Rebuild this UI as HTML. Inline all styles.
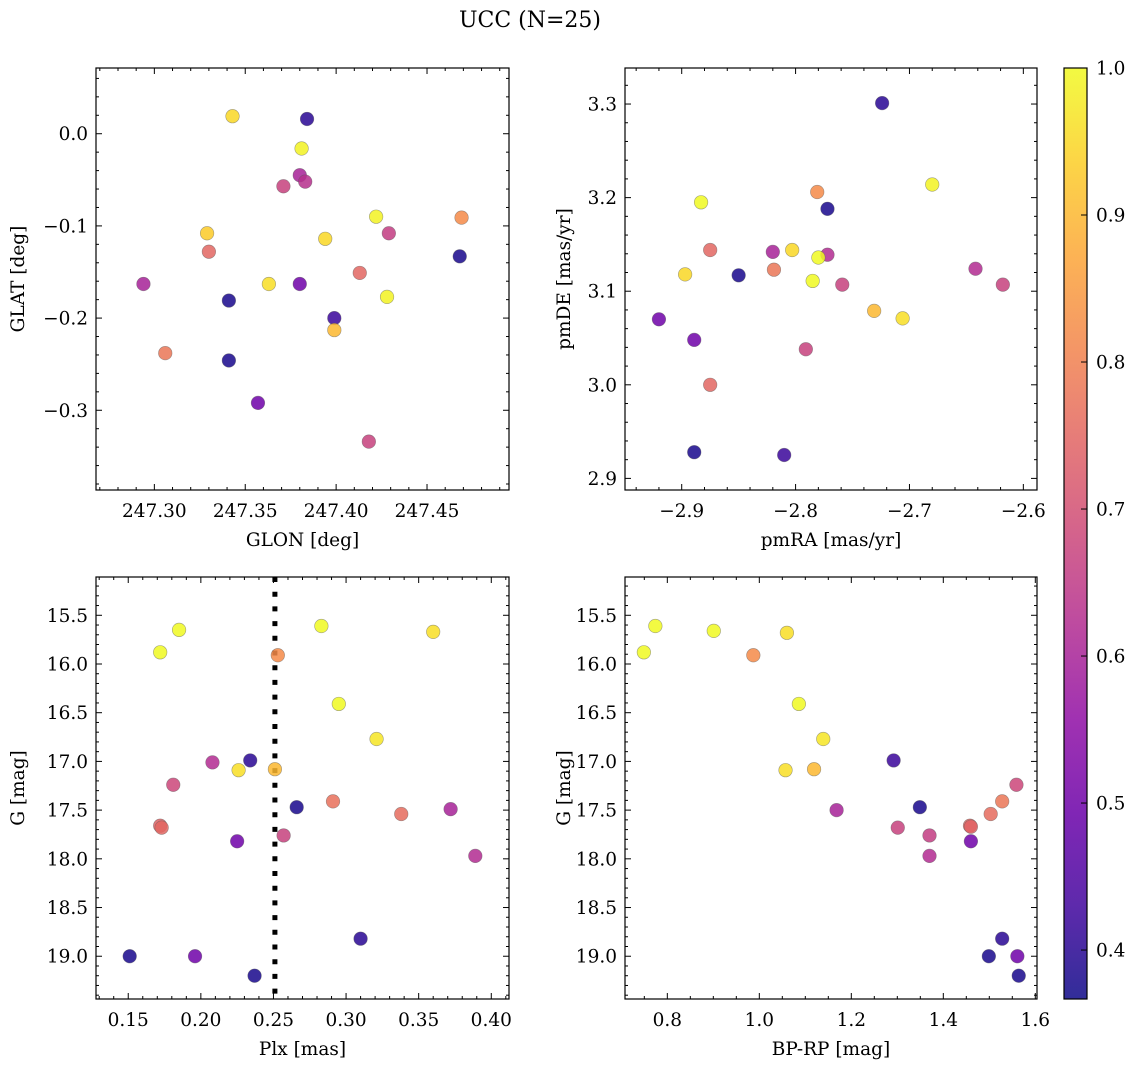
<!DOCTYPE html>
<html><head><meta charset="utf-8">
<style>
html,body{margin:0;padding:0;background:#fff;}
svg{display:block;font-family:"DejaVu Serif","Liberation Serif",serif;}
</style></head>
<body>
<svg id="fig" width="1136" height="1067" viewBox="0 0 1136 1067" xmlns="http://www.w3.org/2000/svg">
<text x="530" y="27" font-size="22" text-anchor="middle">UCC (N=25)</text>
<defs>
<linearGradient id="plasmaGrad" x1="0" y1="1" x2="0" y2="0"></linearGradient>
</defs>
</svg>
<script>
// ---- Panel 1: GLON / GLAT ----
const glon = [247.343,247.384,247.381,247.380,247.383,247.371,247.422,247.469,247.329,247.429,247.394,247.330,247.468,247.413,247.294,247.363,247.380,247.428,247.341,247.399,247.399,247.306,247.341,247.357,247.418];
const glat = [0.019,0.016,-0.016,-0.045,-0.052,-0.057,-0.090,-0.091,-0.108,-0.108,-0.114,-0.128,-0.133,-0.151,-0.163,-0.163,-0.163,-0.177,-0.181,-0.200,-0.213,-0.238,-0.246,-0.292,-0.334];
const prob1 = [0.95,0.40,0.99,0.60,0.63,0.67,0.99,0.82,0.93,0.66,0.95,0.75,0.38,0.75,0.60,0.96,0.50,0.99,0.38,0.42,0.90,0.78,0.38,0.50,0.67];
// ---- Panel 2: pmRA / pmDE ----
const pmra = [-2.724,-2.680,-2.781,-2.883,-2.772,-2.875,-2.820,-2.803,-2.772,-2.780,-2.819,-2.897,-2.850,-2.642,-2.785,-2.759,-2.618,-2.731,-2.706,-2.920,-2.889,-2.791,-2.875,-2.889,-2.810];
const pmde = [3.301,3.214,3.206,3.195,3.188,3.144,3.142,3.144,3.139,3.136,3.123,3.118,3.117,3.124,3.111,3.107,3.107,3.079,3.071,3.070,3.048,3.038,3.000,2.928,2.925];
const prob2 = [0.40,0.99,0.82,1.00,0.38,0.75,0.60,0.95,0.62,1.00,0.78,0.95,0.38,0.62,1.00,0.67,0.67,0.90,0.96,0.50,0.50,0.67,0.75,0.38,0.42];
// ---- Panel 3: Plx / G ----
const plx = [0.185,0.172,0.283,0.360,0.253,0.295,0.321,0.208,0.234,0.226,0.251,0.181,0.266,0.291,0.338,0.372,0.172,0.173,0.225,0.257,0.389,0.310,0.151,0.196,0.237];
const gmag3 = [15.65,15.88,15.61,15.67,15.91,16.41,16.77,17.01,16.99,17.09,17.08,17.24,17.47,17.41,17.54,17.49,17.66,17.68,17.82,17.76,17.97,18.82,19.00,19.00,19.20];
const prob3 = [1.00,1.00,1.00,0.96,0.82,1.00,0.97,0.62,0.40,0.96,0.90,0.68,0.38,0.77,0.76,0.60,0.74,0.75,0.50,0.67,0.62,0.40,0.38,0.50,0.38];
const plxLine = [0.251];
// ---- Panel 4: BP-RP / G ----
const bprp = [0.749,0.774,0.901,1.060,0.987,1.086,1.139,1.292,1.057,1.119,1.559,1.528,1.349,1.168,1.503,1.458,1.460,1.301,1.370,1.460,1.370,1.528,1.499,1.561,1.564];
const gmag4 = [15.88,15.61,15.66,15.68,15.91,16.41,16.77,16.99,17.09,17.08,17.24,17.41,17.47,17.50,17.54,17.66,17.67,17.68,17.76,17.82,17.97,18.82,19.00,19.00,19.20];
const prob4 = [1.00,1.00,1.00,0.96,0.82,1.00,0.97,0.42,0.96,0.90,0.68,0.78,0.38,0.60,0.76,0.75,0.74,0.67,0.66,0.50,0.62,0.40,0.38,0.50,0.38];
// ---- colorbar ----
const cbTicks = [0.4,0.5,0.6,0.7,0.8,0.9,1.0];
const cbLabels = ["0.4","0.5","0.6","0.7","0.8","0.9","1.0"];
const vmin = 0.3667, vmax = 1.0;

const NS = "http://www.w3.org/2000/svg";
const svg = document.getElementById('fig');
function mk(tag, attrs, parent){const e=document.createElementNS(NS,tag);for(const k in attrs)e.setAttribute(k,attrs[k]);(parent||svg).appendChild(e);return e;}

const PL = [[13,8,135],[65,4,157],[106,0,168],[143,13,164],[177,42,144],[204,71,120],[225,100,98],[242,132,75],[252,166,54],[252,206,37],[240,249,33]];
function plasma(t){t=Math.max(0,Math.min(1,t));const f=t*10;const i=Math.min(9,Math.floor(f));const r=f-i;const a=PL[i],b=PL[i+1];
  return `rgb(${Math.round(a[0]+(b[0]-a[0])*r)},${Math.round(a[1]+(b[1]-a[1])*r)},${Math.round(a[2]+(b[2]-a[2])*r)})`;}
function cmap(p){return plasma((p-vmin)/(vmax-vmin));}

function fmt(v,d){const s=Math.abs(v).toFixed(d);return (v<-1e-9?"\u2212":"")+s;}
const FS = 18.5;

function panel(cfg){
  const {name,x0,y0,w,h,xmin,xmax,ymin,ymax,xMaj,xMin,yMaj,yMin,xd,yd,xlabel,ylabel,invertY,xs,ys,ps} = cfg;
  const g = mk('g',{});
  
  
  const X = v => x0 + (v - xmin)/(xmax - xmin)*w;
  const Y = invertY ? (v => y0 + (v - ymin)/(ymax - ymin)*h) : (v => y0 + h - (v - ymin)/(ymax - ymin)*h);
  const clipId = name+'-clip';
  const cp = mk('clipPath',{id:clipId},g); mk('rect',{x:x0,y:y0,width:w,height:h},cp);
  const pts = mk('g',{'clip-path':`url(#${clipId})`},g);
  
  
  if(cfg.vline){
    for(const v of cfg.vline){
      const l = mk('line',{x1:X(v),x2:X(v),y1:y0,y2:y0+h,stroke:'#000','stroke-width':5,'stroke-dasharray':'5 9.7'},pts);
      
      
    }
  }
  for(let i=0;i<xs.length;i++){
    const c = mk('circle',{cx:X(xs[i]),cy:Y(ys[i]),r:6.8,fill:cmap(ps[i]),'fill-opacity':0.85,stroke:'rgba(90,90,90,0.55)','stroke-width':0.6},pts);
    
    
  }
  mk('rect',{x:x0,y:y0,width:w,height:h,fill:'none',stroke:'#000','stroke-width':1.2},g);
  const eps=1e-9;
  for(let v=Math.ceil(xmin/xMin-eps)*xMin; v<=xmax+eps; v+=xMin){
    const px=X(v); const isMaj = Math.abs(v/xMaj-Math.round(v/xMaj))<1e-4; const L=isMaj?6:3;
    mk('line',{x1:px,x2:px,y1:y0+h,y2:y0+h-L,stroke:'#000','stroke-width':1},g);
    mk('line',{x1:px,x2:px,y1:y0,y2:y0+L,stroke:'#000','stroke-width':1},g);
  }
  for(let v=Math.ceil(xmin/xMaj-eps)*xMaj; v<=xmax+eps; v+=xMaj){
    const t=mk('text',{x:X(v),y:y0+h+27,'font-size':FS,'text-anchor':'middle'},g); t.textContent=fmt(v,xd);
    
    
  }
  for(let v=Math.ceil(ymin/yMin-eps)*yMin; v<=ymax+eps; v+=yMin){
    const py=Y(v); const isMaj = Math.abs(v/yMaj-Math.round(v/yMaj))<1e-4; const L=isMaj?6:3;
    mk('line',{x1:x0,x2:x0+L,y1:py,y2:py,stroke:'#000','stroke-width':1},g);
    mk('line',{x1:x0+w,x2:x0+w-L,y1:py,y2:py,stroke:'#000','stroke-width':1},g);
  }
  for(let v=Math.ceil(ymin/yMaj-eps)*yMaj; v<=ymax+eps; v+=yMaj){
    const t=mk('text',{x:x0-8,y:Y(v)+6.5,'font-size':FS,'text-anchor':'end'},g); t.textContent=fmt(v,yd);
    
    
  }
  const xl=mk('text',{x:x0+w/2,y:y0+h+56,'font-size':FS,'text-anchor':'middle'},g); xl.textContent=xlabel;
  
  
  const yx = cfg.ylabX;
  const yl=mk('text',{x:yx,y:y0+h/2,'font-size':FS,'text-anchor':'middle',transform:`rotate(-90 ${yx} ${y0+h/2})`},g); yl.textContent=ylabel;
  
  
}

panel({name:'glon-glat-panel',x0:96,y0:68,w:413,h:422,xmin:247.2679,xmax:247.4951,ymin:-0.3865,ymax:0.0713,xMaj:0.05,xMin:0.01,yMaj:0.1,yMin:0.02,xd:2,yd:1,xlabel:'GLON [deg]',ylabel:'GLAT [deg]',ylabX:24,xs:glon,ys:glat,ps:prob1});
panel({name:'pm-panel',x0:625,y0:68,w:412,h:422,xmin:-2.9498,xmax:-2.588,ymin:2.8876,ymax:3.3385,xMaj:0.1,xMin:0.02,yMaj:0.1,yMin:0.02,xd:1,yd:1,xlabel:'pmRA [mas/yr]',ylabel:'pmDE [mas/yr]',ylabX:570,xs:pmra,ys:pmde,ps:prob2});
panel({name:'plx-g-panel',x0:96,y0:577,w:413,h:422,xmin:0.1278,xmax:0.4122,ymin:15.107,ymax:19.439,xMaj:0.05,xMin:0.01,yMaj:0.5,yMin:0.1,xd:2,yd:1,xlabel:'Plx [mas]',ylabel:'G [mag]',ylabX:24,invertY:true,xs:plx,ys:gmag3,ps:prob3,vline:plxLine});
panel({name:'cmd-panel',x0:625,y0:577,w:412,h:422,xmin:0.708,xmax:1.6037,ymin:15.107,ymax:19.439,xMaj:0.2,xMin:0.05,yMaj:0.5,yMin:0.1,xd:1,yd:1,xlabel:'BP-RP [mag]',ylabel:'G [mag]',ylabX:570,invertY:true,xs:bprp,ys:gmag4,ps:prob4});

const grad = document.getElementById('plasmaGrad');
for(let i=0;i<=20;i++){mk('stop',{offset:(i/20),'stop-color':plasma(i/20),'stop-opacity':0.85},grad);}
const cb = mk('g',{});


const cbx=1064, cby=68, cbw=23, cbh=931;
mk('rect',{x:cbx,y:cby,width:cbw,height:cbh,fill:'url(#plasmaGrad)'},cb);
mk('rect',{x:cbx,y:cby,width:cbw,height:cbh,fill:'none',stroke:'#000','stroke-width':1.2},cb);
const CY = v => cby + cbh - (v - vmin)/(vmax - vmin)*cbh;
cbTicks.forEach((v,i)=>{
  mk('line',{x1:cbx+cbw,x2:cbx+cbw-6,y1:CY(v),y2:CY(v),stroke:'#000','stroke-width':1},cb);
  const t=mk('text',{x:cbx+cbw+9,y:CY(v)+6.5,'font-size':FS},cb); t.textContent=cbLabels[i];
  
  
});
</script>
</body></html>
